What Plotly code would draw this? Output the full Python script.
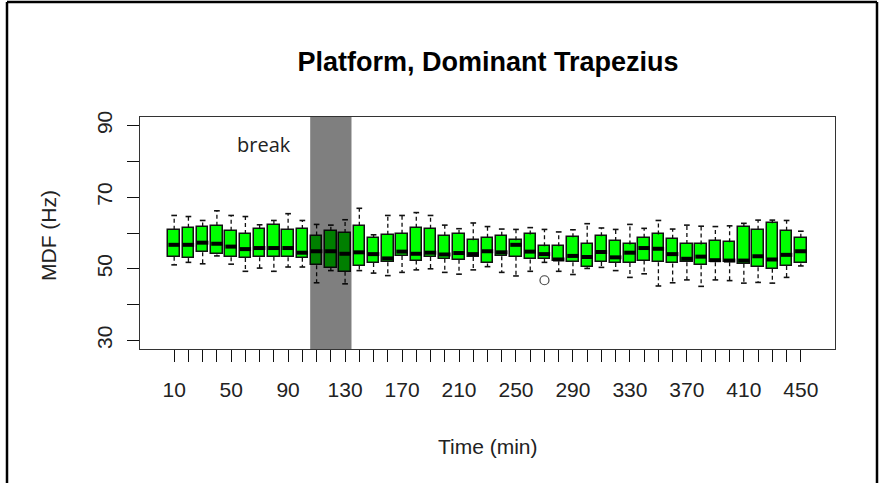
import plotly.graph_objects as go

# Sampling times (min) and five-number summaries of the MDF per time point
times = [10, 20, 30, 40, 50, 60, 70, 80, 90, 100,
         110, 120, 130, 140, 150, 160, 170, 180, 190, 200,
         210, 220, 230, 240, 250, 260, 270, 280, 290, 300,
         310, 320, 330, 340, 350, 360, 370, 380, 390, 400,
         410, 420, 430, 440, 450]
whisker_low = [51.1, 51.8, 51.4, 53.6, 51.3, 49.3, 50.2, 49.3, 50.5, 50.5,
               46.1, 49.5, 45.8, 49.5, 48.8, 48.1, 49.0, 49.7, 50.0, 49.0,
               48.5, 49.7, 50.6, 49.0, 48.0, 49.3, 51.8, 49.3, 48.4, 50.1,
               50.4, 49.5, 47.6, 48.6, 45.2, 46.1, 46.9, 45.1, 46.9, 46.7,
               46.0, 46.2, 46.0, 47.6, 50.8]
q1 = [53.4, 53.0, 54.6, 54.0, 53.2, 53.0, 53.2, 53.4, 53.2, 53.1,
      51.0, 50.2, 49.2, 50.9, 51.6, 51.8, 53.6, 52.3, 53.3, 52.8,
      52.5, 53.3, 51.5, 53.5, 53.4, 52.6, 52.8, 52.1, 51.8, 50.4,
      51.9, 51.6, 51.6, 52.3, 51.8, 51.5, 51.8, 51.0, 51.8, 51.8,
      51.4, 50.4, 50.0, 50.8, 51.5]
median = [56.7, 56.7, 57.3, 57.0, 56.2, 55.5, 55.8, 55.8, 55.8, 54.5,
          54.9, 54.9, 54.2, 54.6, 54.1, 52.9, 54.8, 54.2, 54.5, 54.0,
          54.4, 54.1, 54.9, 54.6, 56.7, 54.8, 54.1, 52.6, 53.6, 53.3,
          54.7, 53.2, 54.5, 55.8, 55.6, 54.1, 52.8, 53.4, 52.4, 52.3,
          52.3, 53.5, 52.6, 53.9, 54.9]
q3 = [60.9, 61.5, 61.8, 62.0, 60.6, 59.7, 61.1, 62.3, 60.9, 61.1,
      59.3, 60.6, 60.0, 62.0, 58.7, 59.5, 59.8, 61.5, 61.2, 59.2,
      59.7, 58.0, 58.7, 59.2, 58.0, 59.6, 56.3, 56.3, 58.8, 57.0,
      59.1, 57.8, 56.8, 58.7, 59.6, 58.4, 56.9, 56.8, 57.8, 57.4,
      61.8, 60.9, 62.7, 60.6, 58.7]
whisker_high = [64.9, 64.6, 63.5, 66.2, 64.9, 64.6, 62.3, 63.5, 65.4, 63.5,
                62.4, 62.2, 63.7, 66.9, 59.5, 64.9, 64.9, 65.7, 64.9, 62.2,
                61.2, 62.8, 61.8, 61.1, 61.0, 61.5, 61.0, 60.3, 60.9, 62.6,
                61.4, 61.0, 62.4, 61.3, 63.5, 61.1, 62.2, 61.9, 61.8, 62.0,
                62.7, 63.6, 63.6, 63.5, 60.5]
outlier_times = [270]
outlier_values = [46.8]

# Axis labelling
x_tick_labels = ["10", "50", "90", "130", "170", "210", "250",
                 "290", "330", "370", "410", "450"]
y_ticks = [30, 40, 50, 60, 70, 80, 90]
y_tick_labels = ["30", "", "50", "", "70", "", "90"]

# Rest break interval (min)
break_start, break_end = 105.5, 134.5

BOX_W = 8.0        # box width in minutes (0.8 of the spacing)
STAPLE_W = 4.0     # whisker cap width
INK = "#111111"
FRAME = "#333333"

fig = go.Figure()

# dashed whiskers
wx, wy = [], []
for t, lo, a, b, hi in zip(times, whisker_low, q1, q3, whisker_high):
    wx += [t, t, None, t, t, None]
    wy += [b, hi, None, a, lo, None]
fig.add_trace(go.Scatter(x=wx, y=wy, mode="lines", hoverinfo="skip",
                         line=dict(color=INK, width=1.3, dash="4px,3px"),
                         showlegend=False))

# whisker caps
sx, sy = [], []
for t, lo, hi in zip(times, whisker_low, whisker_high):
    sx += [t - STAPLE_W / 2, t + STAPLE_W / 2, None,
           t - STAPLE_W / 2, t + STAPLE_W / 2, None]
    sy += [hi, hi, None, lo, lo, None]
fig.add_trace(go.Scatter(x=sx, y=sy, mode="lines", hoverinfo="skip",
                         line=dict(color=INK, width=1.6), showlegend=False))

# interquartile boxes
fig.add_trace(go.Bar(x=times, base=q1,
                     y=[b - a for a, b in zip(q1, q3)],
                     width=BOX_W,
                     marker=dict(color="#00ff00",
                                 line=dict(color=INK, width=1.5)),
                     showlegend=False))

# medians
mx, my = [], []
for t, m in zip(times, median):
    mx += [t - BOX_W / 2, t + BOX_W / 2, None]
    my += [m, m, None]
fig.add_trace(go.Scatter(x=mx, y=my, mode="lines", hoverinfo="skip",
                         line=dict(color="black", width=4), showlegend=False))

# outliers
fig.add_trace(go.Scatter(x=outlier_times, y=outlier_values, mode="markers",
                         marker=dict(symbol="circle-open", size=9,
                                     color="#444444", line=dict(width=1.2)),
                         showlegend=False))

# plot geometry in pixels
W, H = 882, 483
L, R, T, B = 140, 47, 117, 134
pw, ph = W - L - R, H - T - B


def px_x(p):
    return (p - L) / pw


def px_y(p):
    return (H - B - p) / ph


shapes = [
    # shaded break period
    dict(type="rect", xref="x", yref="paper", x0=break_start, x1=break_end,
         y0=0, y1=1, fillcolor="rgba(0,0,0,0.5)", line=dict(width=0),
         layer="above"),
    # outer frame (left, top, right)
    dict(type="line", xref="paper", yref="paper", x0=px_x(7), x1=px_x(7),
         y0=px_y(H + 5), y1=px_y(2), line=dict(color="black", width=2.5)),
    dict(type="line", xref="paper", yref="paper", x0=px_x(7), x1=px_x(877),
         y0=px_y(2), y1=px_y(2), line=dict(color="black", width=2.5)),
    dict(type="line", xref="paper", yref="paper", x0=px_x(877), x1=px_x(877),
         y0=px_y(H + 5), y1=px_y(2), line=dict(color="black", width=2.5)),
]

label_at = {int(s): s for s in x_tick_labels}
x_ticktext = [label_at.get(t, "") for t in times]

annotations = [
    dict(text="Time (min)", xref="paper", yref="paper", x=0.5, y=px_y(446),
         xanchor="center", yanchor="middle", showarrow=False,
         font=dict(family="Liberation Sans, Arial", size=21, color="#222")),
    dict(text="MDF (Hz)", xref="paper", yref="paper", x=px_x(48), y=px_y(236),
         xanchor="center", yanchor="middle", textangle=-90, showarrow=False,
         font=dict(family="Liberation Sans, Arial", size=21, color="#222")),
    dict(text="break", xref="x", yref="y", x=73, y=84.6,
         xanchor="center", yanchor="middle", showarrow=False,
         font=dict(family="Open Sans", size=20, color="#222")),
]

fig.update_layout(
    width=W, height=H,
    margin=dict(l=L, r=R, t=T, b=B, pad=0),
    paper_bgcolor="white", plot_bgcolor="white",
    bargap=0,
    title=dict(text="Platform, Dominant Trapezius", x=px_x(488),
               xref="paper", xanchor="center", y=1 - 62 / H, yanchor="middle",
               font=dict(family="Liberation Sans, Arial", size=27,
                         color="black", weight="bold")),
    xaxis=dict(range=[-14, 474], tickmode="array", tickvals=times,
               ticktext=x_ticktext, ticks="outside", ticklen=12,
               tickwidth=1.3, tickcolor=INK, showgrid=False, zeroline=False,
               showline=True, linecolor=FRAME, linewidth=1.3, mirror=True,
               tickfont=dict(family="Liberation Sans, Arial", size=21,
                             color="#222"),
               ticklabelstandoff=10),
    yaxis=dict(range=[27.6, 92.4], tickmode="array", tickvals=y_ticks,
               ticktext=y_tick_labels, ticks="outside", ticklen=12,
               tickwidth=1.3, tickcolor=INK, showgrid=False, zeroline=False,
               showline=True, linecolor=FRAME, linewidth=1.3, mirror=True,
               tickangle=-90,
               tickfont=dict(family="Liberation Sans, Arial", size=21,
                             color="#222"),
               ticklabelstandoff=6),
    shapes=shapes,
    annotations=annotations,
)

fig.write_html("out.html")
